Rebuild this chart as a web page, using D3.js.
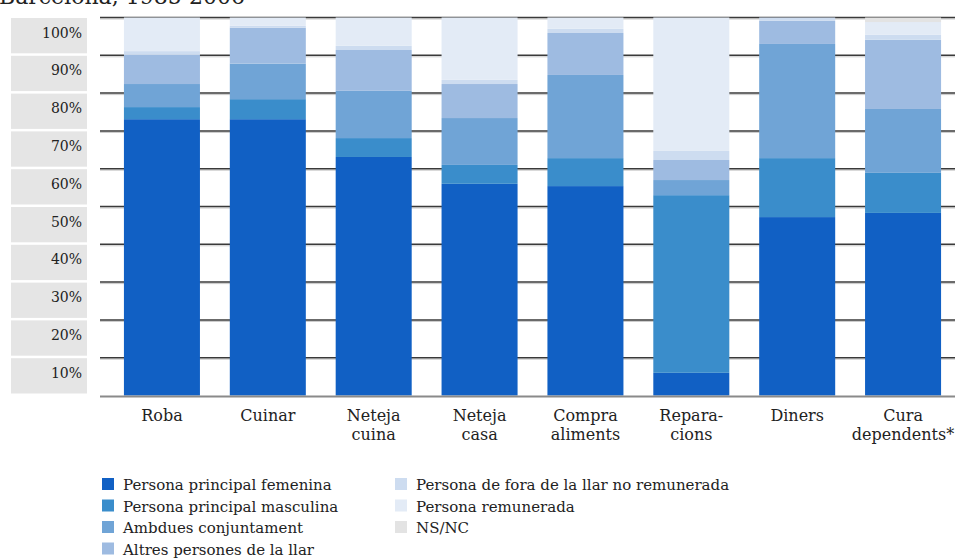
<!DOCTYPE html>
<html>
<head>
<meta charset="utf-8">
<script src="https://cdn.jsdelivr.net/npm/d3@7"></script>
<style>
  html, body { margin: 0; padding: 0; background: #fff; }
  svg { display: block; }
  text { font-family: "DejaVu Serif", serif; fill: #222; }
</style>
</head>
<body>
<svg id="chart" width="955" height="559"></svg>
<script>
// ---- data ----
const categories = [
  ["Roba"], ["Cuinar"], ["Neteja", "cuina"], ["Neteja", "casa"],
  ["Compra", "aliments"], ["Repara-", "cions"], ["Diners"], ["Cura", "dependents*"]
];
const seriesNames = [
  "Persona principal femenina",
  "Persona principal masculina",
  "Ambdues conjuntament",
  "Altres persones de la llar",
  "Persona de fora de la llar no remunerada",
  "Persona remunerada",
  "NS/NC"
];
const femenina    = [73.1, 73.1, 63.1, 56.0, 55.4,  6.0, 47.2, 48.3];
const masculina   = [ 3.2,  5.3,  5.0,  5.0,  7.4, 47.0, 15.6, 10.6];
const ambdues     = [ 6.1,  9.4, 12.5, 12.4, 22.0,  4.0, 30.2, 16.9];
const altres      = [ 7.7,  9.5, 10.8,  9.0, 11.1,  5.3,  6.1, 18.3];
const foraNoRem   = [ 1.0,  0.5,  1.1,  1.1,  1.1,  2.4,  0.9,  1.3];
const remunerada  = [ 8.9,  2.2,  7.5, 16.5,  3.0, 35.3,  0.0,  3.4];
const nsnc        = [ 0.0,  0.0,  0.0,  0.0,  0.0,  0.0,  0.0,  1.2];
const yTicks = [100, 90, 80, 70, 60, 50, 40, 30, 20, 10];
const titleText = "Barcelona, 1985-2006";

const colors = ["#1160c4", "#3a8dcb", "#70a4d6", "#9ebbe1", "#cddcf0", "#e3ebf6", "#e3e3e3"];

// ---- build table ----
const seriesValues = [femenina, masculina, ambdues, altres, foraNoRem, remunerada, nsnc];
const keys = seriesNames;
const table = categories.map((c, i) => {
  const row = { cat: c.join(" ") };
  keys.forEach((k, j) => row[k] = seriesValues[j][i]);
  return row;
});
const stacked = d3.stack().keys(keys)(table);

const svg = d3.select("#chart");

const x = d3.scaleBand()
  .domain(table.map(d => d.cat))
  .range([109, 956])
  .paddingInner(0.282)
  .paddingOuter(0.141);
const y = d3.scaleLinear().domain([0, 100]).range([395.5, 17.5]);

// title (clipped at top, as in the reference)
svg.append("text")
  .attr("x", -1).attr("y", 4)
  .attr("font-size", 22)
  .style("fill", "#222")
  .text(titleText);

// y label boxes
const step = y(0) - y(10);
svg.append("g").selectAll("rect").data(yTicks).join("rect")
  .attr("x", 11).attr("width", 76)
  .attr("y", d => y(d) + 0.5)
  .attr("height", step - 2.5)
  .attr("fill", "#e5e5e5");
svg.append("g").selectAll("text").data(yTicks).join("text")
  .attr("x", 82).attr("y", d => y(d) + 20)
  .attr("text-anchor", "end")
  .attr("font-size", 14)
  .text(d => d + "%");

// gridlines
const grid = svg.append("g");
const gridVals = d3.range(10, 101, 10);
grid.selectAll("line.s").data(gridVals).join("line")
  .attr("class", "s")
  .attr("x1", 100).attr("x2", 955)
  .attr("y1", d => y(d) + 1.5).attr("y2", d => y(d) + 1.5)
  .attr("stroke", "#c8c8c8").attr("stroke-width", 1);
grid.selectAll("line.m").data(gridVals).join("line")
  .attr("class", "m")
  .attr("x1", 100).attr("x2", 955)
  .attr("y1", d => y(d)).attr("y2", d => y(d))
  .attr("stroke", "#3a3a3a").attr("stroke-width", 1.5);

// bars
svg.append("g").selectAll("g").data(stacked).join("g")
  .attr("fill", (d, i) => colors[i])
  .selectAll("rect").data(d => d).join("rect")
  .attr("x", d => x(d.data.cat))
  .attr("width", x.bandwidth())
  .attr("y", d => y(d[1]))
  .attr("height", d => Math.max(0, y(d[0]) - y(d[1])));

// baseline
svg.append("line")
  .attr("x1", 100).attr("x2", 955)
  .attr("y1", 396.5).attr("y2", 396.5)
  .attr("stroke", "#8a8a8a").attr("stroke-width", 2);

// x labels
const xl = svg.append("g");
categories.forEach((c, i) => {
  const cx = x(table[i].cat) + x.bandwidth() / 2;
  const t = xl.append("text")
    .attr("x", cx).attr("y", 421)
    .attr("text-anchor", "middle")
    .attr("font-size", 16);
  c.forEach((line, j) => {
    t.append("tspan").attr("x", cx).attr("dy", j === 0 ? 0 : 19).text(line);
  });
});

// legend
const legend = svg.append("g");
const legPos = [
  [102, 478], [102, 499.5], [102, 521], [102, 542.5],
  [395, 478], [395, 499.5], [395, 521]
];
seriesNames.forEach((name, i) => {
  const [lx, ly] = legPos[i];
  legend.append("rect")
    .attr("x", lx).attr("y", ly)
    .attr("width", 12).attr("height", 12)
    .attr("fill", colors[i]);
  legend.append("text")
    .attr("x", lx + 21).attr("y", ly + 12)
    .attr("font-size", 15)
    .text(name);
});
</script>
</body>
</html>
